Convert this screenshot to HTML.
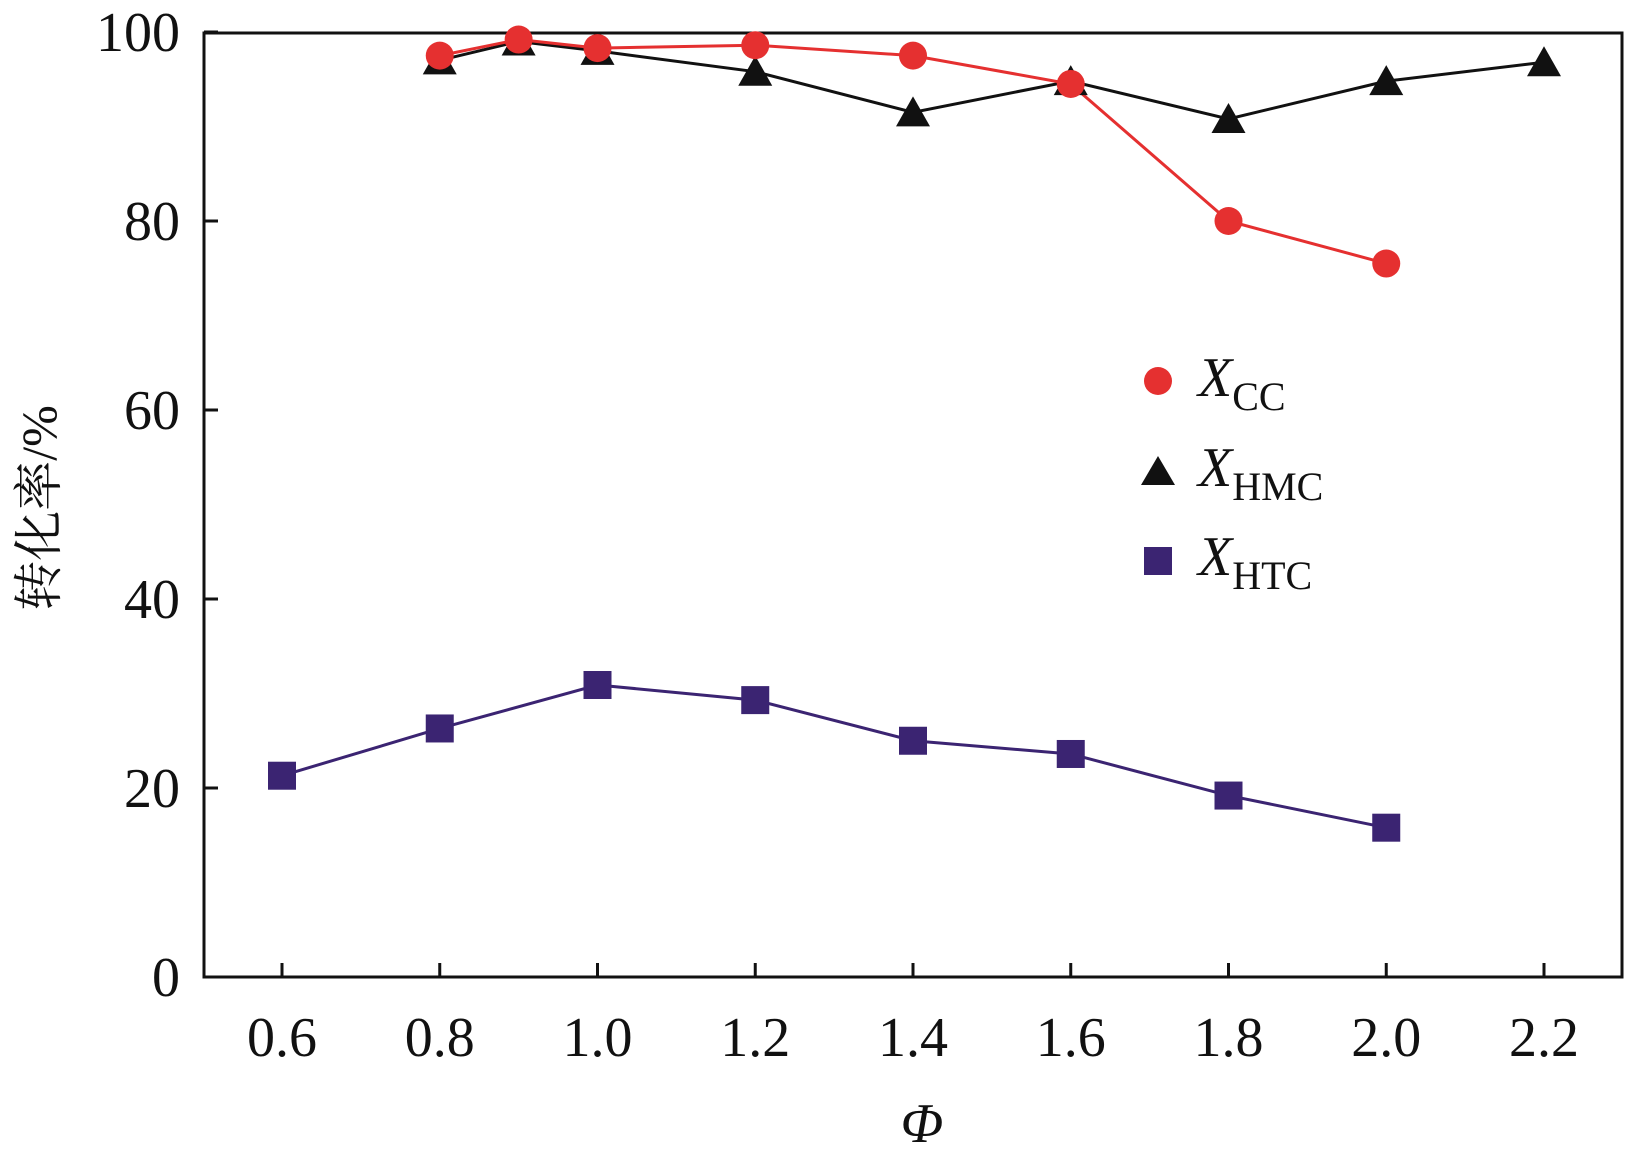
<!DOCTYPE html>
<html><head><meta charset="utf-8"><style>
body{margin:0;background:#fff}
svg{display:block}
text{font-family:"Liberation Serif","Noto Serif CJK SC",serif;fill:#111}
</style></head><body>
<svg id="chart" width="1625" height="1165">
<g id="axes"></g><g id="series"></g>
<g>
 <circle cx="1158" cy="381" r="14" fill="#e53030"/>
 <text x="1198" y="396" font-size="56" font-style="italic">X<tspan font-size="40" font-style="normal" dy="14">CC</tspan></text>
 <polygon points="1158,456 1141,485 1175,485" fill="#111"/>
 <text x="1198" y="486" font-size="56" font-style="italic">X<tspan font-size="40" font-style="normal" dy="14">HMC</tspan></text>
 <rect x="1144" y="547" width="28" height="28" fill="#3b2472"/>
 <text x="1198" y="575" font-size="56" font-style="italic">X<tspan font-size="40" font-style="normal" dy="14">HTC</tspan></text>
</g>
<text x="922" y="1142" font-size="56" font-style="italic" text-anchor="middle">Φ</text>
<text transform="translate(56,508) rotate(-90)" font-size="50" text-anchor="middle">转化率/%</text>
</svg>
<script>
const xTicks=[0.6,0.8,1.0,1.2,1.4,1.6,1.8,2.0,2.2];
const yTicks=[0,20,40,60,80,100];
const ccX=[0.8,0.9,1.0,1.2,1.4,1.6,1.8,2.0];
const ccY=[97.5,99.2,98.3,98.6,97.5,94.5,80,75.5];
const hmcX=[0.8,0.9,1.0,1.2,1.4,1.6,1.8,2.0,2.2];
const hmcY=[97,99,98,95.8,91.5,94.8,90.8,94.8,96.8];
const htcX=[0.6,0.8,1.0,1.2,1.4,1.6,1.8,2.0];
const htcY=[21.3,26.3,30.9,29.3,25,23.6,19.2,15.8];
const NS='http://www.w3.org/2000/svg';
const L=204,R=1622,T=33,B=977;
const sx=v=>282+(v-0.6)/0.2*157.75;
const sy=v=>B-v*9.45;
function mk(tag,attrs,parent){const e=document.createElementNS(NS,tag);for(const k in attrs)e.setAttribute(k,attrs[k]);parent.appendChild(e);return e;}
const ax=document.getElementById('axes'),se=document.getElementById('series');
const frame=mk('rect',{x:L,y:T,width:R-L,height:B-T,fill:'none',stroke:'#111','stroke-width':3},ax);


xTicks.forEach(t=>{
 const l=mk('line',{x1:sx(t),x2:sx(t),y1:B,y2:B-14,stroke:'#111','stroke-width':3},ax);
 
 
 const tx=mk('text',{x:sx(t),y:1056,'font-size':56,'text-anchor':'middle'},ax);
 tx.textContent=t.toFixed(1);
 
 
});
yTicks.forEach(t=>{
 const l=mk('line',{x1:L,x2:L+14,y1:sy(t),y2:sy(t),stroke:'#111','stroke-width':3},ax);
 
 
 const tx=mk('text',{x:180,y:sy(t)+19,'font-size':56,'text-anchor':'end'},ax);
 tx.textContent=t;
 
 
});
function line(xs,ys,color,name){
 const p=mk('polyline',{points:xs.map((x,i)=>sx(x)+','+sy(ys[i])).join(' '),fill:'none',stroke:color,'stroke-width':3},se);
 
 
}
line(hmcX,hmcY,'#111','xhmc-line');
line(ccX,ccY,'#e53030','xcc-line');
line(htcX,htcY,'#3b2472','xhtc-line');
hmcX.forEach((x,i)=>{const cx=sx(x),cy=sy(hmcY[i]);
 const m=mk('polygon',{points:`${cx},${cy-16} ${cx-17},${cy+14} ${cx+17},${cy+14}`,fill:'#111'},se);
 
 });
ccX.forEach((x,i)=>{
 const m=mk('circle',{cx:sx(x),cy:sy(ccY[i]),r:14,fill:'#e53030'},se);
 
 });
htcX.forEach((x,i)=>{
 const m=mk('rect',{x:sx(x)-14,y:sy(htcY[i])-14,width:28,height:28,fill:'#3b2472'},se);
 
 });
</script>
</body></html>
